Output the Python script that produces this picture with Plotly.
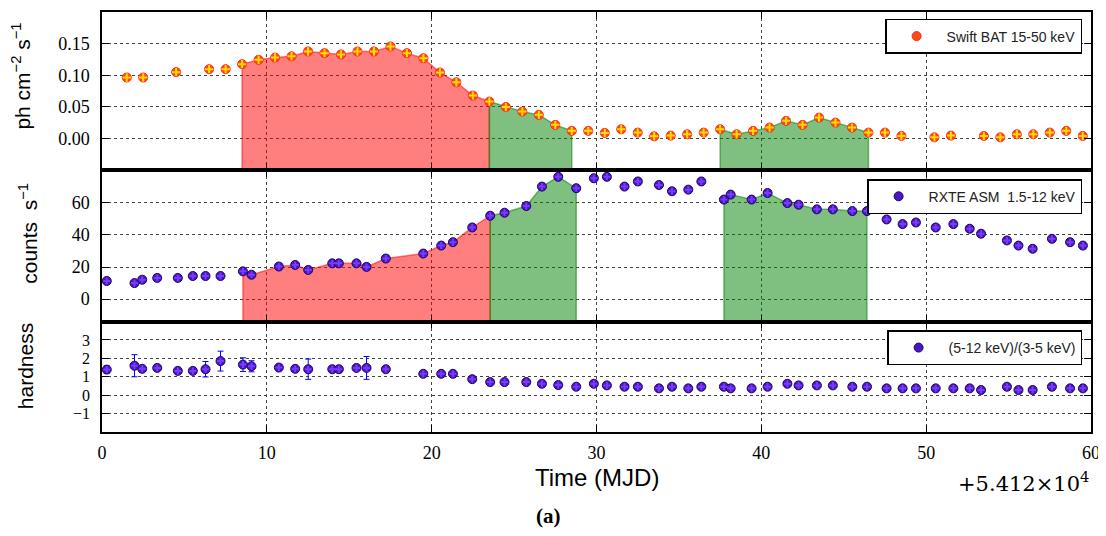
import plotly.graph_objects as go
from plotly.subplots import make_subplots

# ---------------- data ----------------
bat_t = [1.5, 2.5, 4.5, 6.5, 7.5, 8.5, 9.5, 10.5, 11.5, 12.5, 13.5, 14.5, 15.5, 16.5, 17.5,
         18.5, 19.5, 20.5, 21.5, 22.5, 23.5, 24.5, 25.5, 26.5, 27.5, 28.5, 29.5, 30.5, 31.5,
         32.5, 33.5, 34.5, 35.5, 36.5, 37.5, 38.5, 39.5, 40.5, 41.5, 42.5, 43.5, 44.5, 45.5,
         46.5, 47.5, 48.5, 50.5, 51.5, 53.5, 54.5, 55.5, 56.5, 57.5, 58.5, 59.5]
bat_rate = [0.0965, 0.0965, 0.105, 0.1097, 0.1097, 0.1176, 0.1245, 0.128, 0.130, 0.1377,
            0.135, 0.133, 0.1377, 0.1377, 0.1456, 0.135, 0.127, 0.1044, 0.089, 0.068,
            0.0585, 0.050, 0.0427, 0.0375, 0.0217, 0.0122, 0.0122, 0.009, 0.0147, 0.0095,
            0.0036, 0.0047, 0.0068, 0.0095, 0.0147, 0.0068, 0.0122, 0.0174, 0.028, 0.0217,
            0.0332, 0.0253, 0.0174, 0.0095, 0.0095, 0.0042, 0.002, 0.0047, 0.0042, 0.002,
            0.0068, 0.0068, 0.0095, 0.0122, 0.0042]
bat_err = [0.003, 0.003, 0.003, 0.003, 0.003, 0.003, 0.003, 0.003, 0.003, 0.003,
           0.005, 0.003, 0.004, 0.005, 0.003, 0.003, 0.003, 0.003, 0.003, 0.003,
           0.003, 0.003, 0.003, 0.003, 0.003, 0.003, 0.003, 0.003, 0.003, 0.003,
           0.003, 0.003, 0.003, 0.003, 0.003, 0.003, 0.003, 0.003, 0.003, 0.003,
           0.003, 0.003, 0.003, 0.003, 0.003, 0.003, 0.003, 0.003, 0.003, 0.003,
           0.003, 0.003, 0.003, 0.003, 0.003]

asm_t = [0.29, 1.97, 2.44, 3.35, 4.6, 5.51, 6.28, 7.19, 8.55, 9.07, 10.73, 11.72, 12.51,
         13.97, 14.37, 15.44, 16.05, 17.22, 19.49, 20.58, 21.29, 22.46, 23.55, 24.42, 25.74,
         26.69, 27.68, 28.77, 29.84, 30.63, 31.7, 32.51, 33.79, 34.58, 35.57, 36.36, 37.73,
         38.14, 39.41, 40.38, 41.58, 42.26, 43.37, 44.34, 45.52, 46.41, 47.6, 48.57, 49.38,
         50.58, 51.65, 52.64, 53.33, 54.9, 55.6, 56.46, 57.63, 58.73, 59.51]
asm_rate = [11.3, 10.0, 12.1, 13.2, 13.2, 14.4, 14.4, 14.4, 17.3, 15.2, 20.3, 21.3, 18.2,
            22.3, 22.3, 22.3, 20.1, 25.3, 28.4, 33.4, 35.5, 44.7, 52.0, 53.9, 58.1, 70.2,
            76.3, 69.2, 75.4, 76.3, 70.2, 73.4, 71.2, 67.3, 68.3, 73.4, 62.1, 65.2, 62.1,
            66.2, 59.9, 58.9, 56.0, 56.0, 54.9, 54.9, 49.7, 46.8, 47.8, 44.7, 46.8, 43.9,
            40.8, 36.6, 33.4, 31.4, 37.6, 35.5, 33.4]
asm_err = [1.2, 1.3, 1.2, 1.1, 1.2, 1.3, 1.2, 1.2, 1.4, 1.3, 1.3, 1.2, 1.4, 1.3, 1.2, 1.3,
           2.0, 1.3, 1.4, 1.5, 1.4, 1.6, 1.5, 1.5, 1.6, 1.7, 1.6, 1.7, 1.6, 1.6, 1.7, 1.6,
           1.6, 1.7, 1.6, 1.6, 1.5, 1.6, 1.5, 1.6, 1.5, 1.5, 1.5, 1.5, 1.5, 1.5, 1.4, 1.4,
           1.4, 1.4, 1.4, 1.4, 1.3, 1.3, 1.3, 1.3, 1.3, 1.3, 1.3]

hard = [1.39, 1.60, 1.43, 1.48, 1.32, 1.32, 1.41, 1.85, 1.66, 1.57, 1.50, 1.43, 1.41, 1.41,
        1.41, 1.48, 1.48, 1.41, 1.16, 1.16, 1.16, 0.87, 0.71, 0.71, 0.71, 0.62, 0.55, 0.46,
        0.62, 0.53, 0.46, 0.46, 0.37, 0.46, 0.37, 0.46, 0.46, 0.37, 0.37, 0.46, 0.62, 0.53,
        0.53, 0.53, 0.46, 0.46, 0.37, 0.37, 0.37, 0.37, 0.37, 0.37, 0.28, 0.46, 0.28, 0.28,
        0.46, 0.37, 0.37]
hard_err = [0.2, 0.6, 0.12, 0.12, 0.12, 0.12, 0.42, 0.54, 0.37, 0.3, 0.12, 0.12, 0.55, 0.12,
            0.12, 0.12, 0.62, 0.12, 0.1, 0.1, 0.1, 0.1, 0.1, 0.1, 0.1, 0.1, 0.1, 0.1,
            0.1, 0.1, 0.1, 0.1, 0.1, 0.1, 0.1, 0.1, 0.1, 0.1, 0.1, 0.1, 0.1, 0.1,
            0.1, 0.1, 0.1, 0.1, 0.1, 0.1, 0.1, 0.1, 0.1, 0.1, 0.1, 0.1, 0.1, 0.1,
            0.1, 0.1, 0.1]

# shaded time windows (MJD - 54120): (start, end, colour)
win_start = [8.4, 23.4, 37.4]
win_end = [23.6, 28.8, 46.6]
win_fill = ["rgba(255,0,0,0.5)", "rgba(0,128,0,0.5)", "rgba(0,128,0,0.5)"]

x_ticks = [0, 10, 20, 30, 40, 50, 60]
y1_ticks = [0.0, 0.05, 0.10, 0.15]
y2_ticks = [0, 20, 40, 60]
y3_ticks = [-1, 0, 1, 2, 3]
y1_range = [-0.05, 0.2]
y2_range = [-14, 80.4]
y3_range = [-2, 4]

# ---------------- figure ----------------
fig = make_subplots(rows=3, cols=1, shared_xaxes=True, vertical_spacing=0,
                    row_heights=[159, 152, 111])

def region(t, v, lo, hi, base):
    xs = [a for a in t if lo <= a <= hi]
    ys = [b for a, b in zip(t, v) if lo <= a <= hi]
    return xs + [xs[-1], xs[0], xs[0]], ys + [base, base, ys[0]]

for row, (t, v, rng) in enumerate([(bat_t, bat_rate, y1_range), (asm_t, asm_rate, y2_range)], start=1):
    for lo, hi, col in zip(win_start, win_end, win_fill):
        xs, ys = region(t, v, lo, hi, rng[0])
        fig.add_trace(go.Scatter(x=xs, y=ys, mode="lines", fill="toself", fillcolor=col,
                                 line=dict(color=col, width=1.5), showlegend=False,
                                 hoverinfo="skip"), row=row, col=1)

err_style = dict(type="data", color="#0000ff", thickness=1, width=3, visible=True)

# Swift BAT
fig.add_trace(go.Scatter(x=bat_t, y=bat_rate, mode="markers", name="Swift BAT 15-50 keV",
                         error_y=dict(array=bat_err, **err_style),
                         marker=dict(symbol="circle", size=9, color="#ff4a10",
                                     line=dict(color="#ff2020", width=1)),
                         legend="legend"), row=1, col=1)
fig.add_trace(go.Scatter(x=bat_t, y=bat_rate, mode="markers", showlegend=False,
                         marker=dict(symbol="cross-thin", size=6,
                                     line=dict(color="#ffdd00", width=2))), row=1, col=1)

# RXTE ASM
fig.add_trace(go.Scatter(x=asm_t, y=asm_rate, mode="markers", name="RXTE ASM  1.5-12 keV",
                         error_y=dict(array=asm_err, **err_style),
                         marker=dict(symbol="circle", size=9, color="#4a14c8",
                                     line=dict(color="#1c0660", width=1)),
                         legend="legend2"), row=2, col=1)
fig.add_trace(go.Scatter(x=asm_t, y=asm_rate, mode="markers", showlegend=False,
                         marker=dict(symbol="cross-thin", size=5,
                                     line=dict(color="#7a3cff", width=2))), row=2, col=1)

# hardness
fig.add_trace(go.Scatter(x=asm_t, y=hard, mode="markers", name="(5-12 keV)/(3-5 keV)",
                         error_y=dict(array=hard_err, **err_style),
                         marker=dict(symbol="circle", size=9, color="#4a14c8",
                                     line=dict(color="#1c0660", width=1)),
                         legend="legend3"), row=3, col=1)
fig.add_trace(go.Scatter(x=asm_t, y=hard, mode="markers", showlegend=False,
                         marker=dict(symbol="cross-thin", size=5,
                                     line=dict(color="#7a3cff", width=2))), row=3, col=1)

axis_common = dict(showline=True, linewidth=1.5, linecolor="black", mirror="ticks",
                   ticks="inside", ticklen=7, tickwidth=1, tickcolor="black",
                   showgrid=True, gridcolor="#444444", gridwidth=1, griddash="dot",
                   zeroline=False)
tick_font = dict(family="Liberation Serif", size=18, color="black")
small_tick_font = dict(family="Liberation Serif", size=16, color="black")

for r in (1, 2, 3):
    fig.update_xaxes(range=[0, 60], tickvals=x_ticks, ticklabelstandoff=4, tickfont=tick_font,
                     row=r, col=1, **axis_common)
fig.update_yaxes(range=y1_range, tickvals=y1_ticks, tickformat=".2f", tickfont=tick_font,
                 row=1, col=1, **axis_common)
fig.update_yaxes(range=y2_range, tickvals=y2_ticks, tickfont=tick_font,
                 row=2, col=1, **axis_common)
fig.update_yaxes(range=y3_range, tickvals=y3_ticks, tickfont=small_tick_font,
                 row=3, col=1, **axis_common)
fig.update_yaxes(ticklabelstandoff=7)

legend_common = dict(xanchor="right", yanchor="top", x=0.991, bgcolor="white",
                     bordercolor="black", borderwidth=1.5,
                     font=dict(family="Liberation Sans", size=14, color="#222"),
                     itemwidth=50, tracegroupgap=0)

# the page body adds an 8px offset: figure coords = screen coords - 8
OFF = 8
PLOT_TOP, PLOT_BOT = 10 - OFF, 432 - OFF
H = float(PLOT_BOT - PLOT_TOP)
def py(p):
    return (432 - p) / H

title_font = dict(family="Liberation Sans", size=21, color="black")
ann = [
    dict(text="ph cm<sup>−2</sup> s<sup>−1</sup>", x=-0.082, y=py(74)),
    dict(text="counts  s<sup>−1</sup>", x=-0.075, y=py(232)),
    dict(text="hardness", x=-0.078, y=py(366)),
]
annotations = []
for a in ann:
    annotations.append(dict(text=a["text"], x=a["x"], y=a["y"], xref="paper", yref="paper",
                            textangle=-90, showarrow=False, font=title_font,
                            xanchor="center", yanchor="middle"))
annotations.append(dict(text="Time (MJD)", x=(597 - 102) / 989, y=py(478), xref="paper",
                        yref="paper", showarrow=False,
                        font=dict(family="Liberation Sans", size=24, color="black"),
                        xanchor="center", yanchor="middle"))
annotations.append(dict(text="+5.412×10<sup>4</sup>", x=1.0, y=py(482), xref="paper",
                        yref="paper", showarrow=False,
                        font=dict(family="DejaVu Serif", size=21, color="black"),
                        xanchor="right", yanchor="middle"))
annotations.append(dict(text="<b>(a)</b>", x=(548 - 102) / 989, y=py(516), xref="paper",
                        yref="paper", showarrow=False,
                        font=dict(family="Liberation Serif", size=21, color="black"),
                        xanchor="center", yanchor="middle"))

fig.update_layout(
    width=1106 - OFF, height=536 - OFF,
    margin=dict(l=102 - OFF, r=15, t=PLOT_TOP, b=536 - 432),
    paper_bgcolor="white", plot_bgcolor="white",
    legend=dict(y=py(17), **legend_common),
    legend2=dict(y=py(178), **legend_common),
    legend3=dict(y=py(330), **legend_common),
    annotations=annotations,
    showlegend=True,
)

fig.write_html("out.html")
